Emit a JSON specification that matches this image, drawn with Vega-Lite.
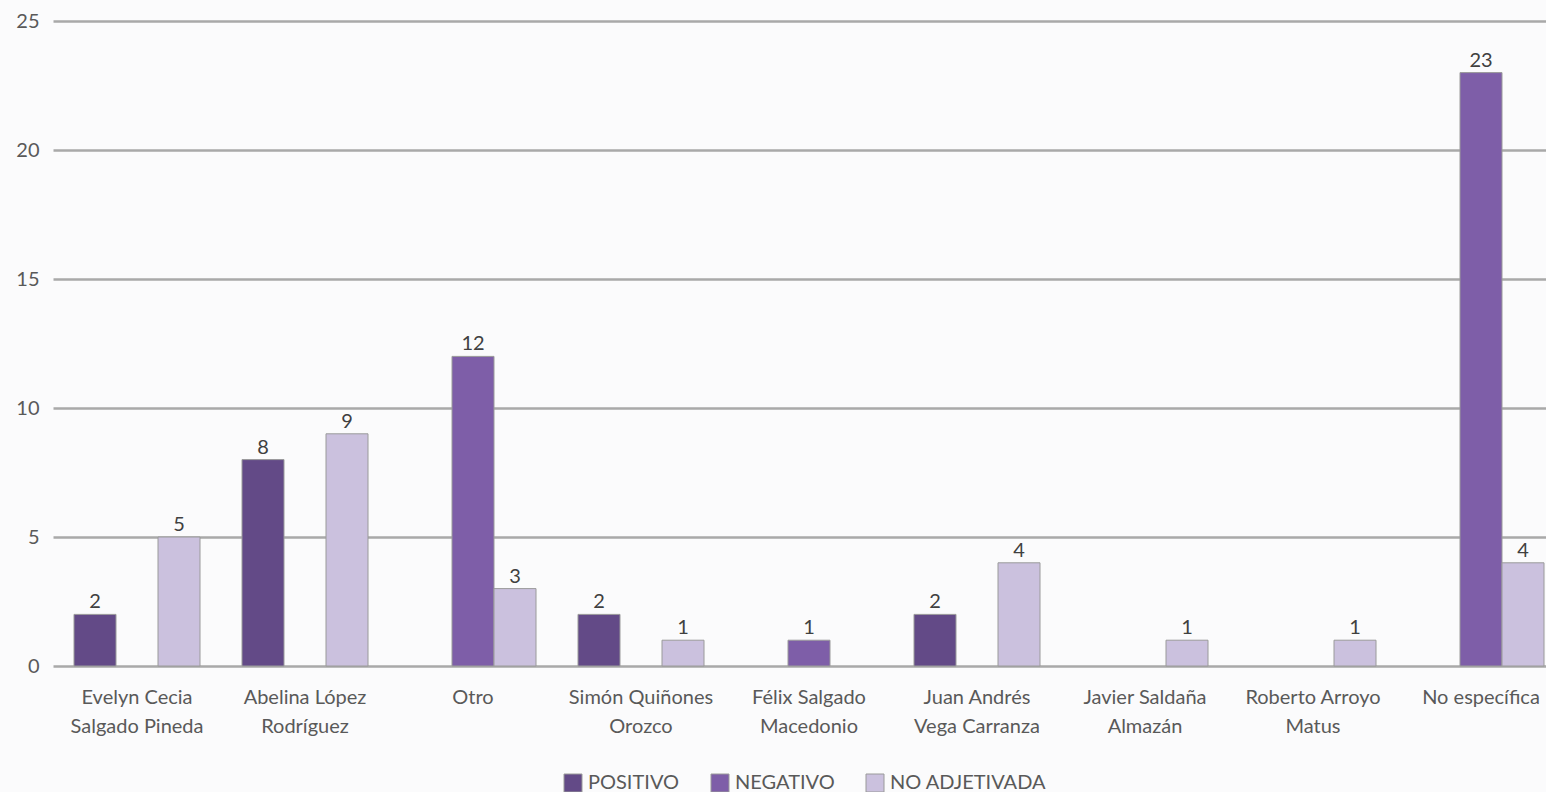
{
  "$schema": "https://vega.github.io/schema/vega-lite/v6.json",
  "width": 1493,
  "height": 645,
  "autosize": "none",
  "padding": {"left": 53, "top": 21, "right": 0, "bottom": 126},
  "background": "#fbfbfc",
  "data": {
    "values": [
      {"candidato": "Evelyn Cecia Salgado Pineda", "tipo": "POSITIVO", "valor": 2},
      {"candidato": "Evelyn Cecia Salgado Pineda", "tipo": "NO ADJETIVADA", "valor": 5},
      {"candidato": "Abelina López Rodríguez", "tipo": "POSITIVO", "valor": 8},
      {"candidato": "Abelina López Rodríguez", "tipo": "NO ADJETIVADA", "valor": 9},
      {"candidato": "Otro", "tipo": "NEGATIVO", "valor": 12},
      {"candidato": "Otro", "tipo": "NO ADJETIVADA", "valor": 3},
      {"candidato": "Simón Quiñones Orozco", "tipo": "POSITIVO", "valor": 2},
      {"candidato": "Simón Quiñones Orozco", "tipo": "NO ADJETIVADA", "valor": 1},
      {"candidato": "Félix Salgado Macedonio", "tipo": "NEGATIVO", "valor": 1},
      {"candidato": "Juan Andrés Vega Carranza", "tipo": "POSITIVO", "valor": 2},
      {"candidato": "Juan Andrés Vega Carranza", "tipo": "NO ADJETIVADA", "valor": 4},
      {"candidato": "Javier Saldaña Almazán", "tipo": "NO ADJETIVADA", "valor": 1},
      {"candidato": "Roberto Arroyo Matus", "tipo": "NO ADJETIVADA", "valor": 1},
      {"candidato": "No específica", "tipo": "NEGATIVO", "valor": 23},
      {"candidato": "No específica", "tipo": "NO ADJETIVADA", "valor": 4}
    ]
  },
  "encoding": {
    "x": {
      "field": "candidato",
      "type": "nominal",
      "sort": null,
      "title": null,
      "scale": {"range": [0, 1512], "paddingInner": 0, "paddingOuter": 0},
      "axis": {
        "domain": false,
        "ticks": false,
        "labelAngle": 0,
        "labelFontSize": 20,
        "labelLineHeight": 29,
        "labelPadding": 21,
        "labelColor": "#595959",
        "labelFont": "Lato",
        "labelBaseline": "top",
        "labelExpr": "length(split(datum.value,' ')) > 2 ? [join(slice(split(datum.value,' '),0,2),' '), join(slice(split(datum.value,' '),2),' ')] : datum.value"
      }
    },
    "xOffset": {
      "field": "tipo",
      "type": "nominal",
      "sort": ["POSITIVO", "NEGATIVO", "NO ADJETIVADA"],
      "scale": {"domain": ["POSITIVO", "NEGATIVO", "NO ADJETIVADA"], "paddingInner": 0, "paddingOuter": 0.5}
    },
    "y": {
      "field": "valor",
      "type": "quantitative",
      "title": null,
      "scale": {"domain": [0, 25], "nice": false},
      "axis": {
        "values": [0, 5, 10, 15, 20, 25],
        "domain": false,
        "ticks": false,
        "grid": true,
        "gridColor": "#a9a9a9",
        "gridWidth": 2.5,
        "labelFontSize": 20,
        "labelColor": "#595959",
        "labelFont": "Lato",
        "labelPadding": 14
      }
    }
  },
  "layer": [
    {
      "mark": {"type": "bar", "stroke": "#9a9a9a", "strokeWidth": 1},
      "encoding": {
        "color": {
          "field": "tipo",
          "type": "nominal",
          "scale": {"domain": ["POSITIVO", "NEGATIVO", "NO ADJETIVADA"], "range": ["#634a87", "#7e5ea8", "#cbc1de"]},
          "legend": {
            "title": null,
            "orient": "none",
            "legendX": 510,
            "legendY": 752,
            "padding": 0,
            "direction": "horizontal",
            "symbolType": "square",
            "symbolSize": 324,
            "symbolStrokeColor": "#9a9a9a",
            "symbolStrokeWidth": 1,
            "labelFontSize": 20,
            "labelFont": "Lato",
            "labelColor": "#595959",
            "labelOffset": 5,
            "columnPadding": 29
          }
        }
      }
    },
    {
      "mark": {"type": "text", "dy": -6, "fontSize": 20, "font": "Lato", "color": "#404040", "baseline": "alphabetic"},
      "encoding": {"text": {"field": "valor", "type": "quantitative"}}
    }
  ],
  "config": {"view": {"stroke": null}}
}
